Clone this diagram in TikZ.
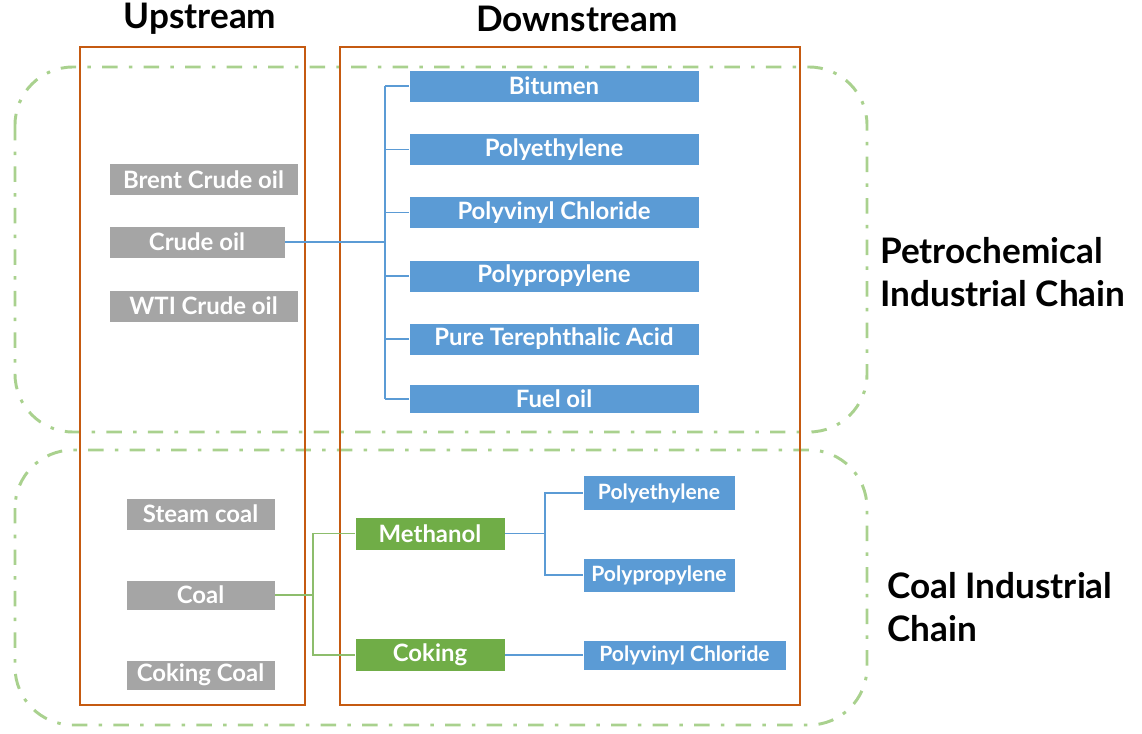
\documentclass[tikz,border=0pt]{standalone}
\usepackage{fontspec}
\setmainfont{Lato}
\usetikzlibrary{positioning}

\definecolor{frameorange}{HTML}{C55A11}
\definecolor{chaingreen}{HTML}{A9D18E}
\definecolor{rawgray}{HTML}{A5A5A5}
\definecolor{prodblue}{HTML}{5B9BD5}
\definecolor{midgreen}{HTML}{70AD47}

\begin{document}
\begin{tikzpicture}[x=0.025cm, y=-0.025cm,
  box/.style={rectangle, draw=white, line width=0.4pt, text=white, font=\fontsize{17}{19}\selectfont\bfseries, inner sep=0pt, minimum height=0.8cm},
  raw/.style={box, fill=rawgray},
  product/.style={box, fill=prodblue},
  process/.style={box, fill=midgreen},
  small/.style={font=\fontsize{15}{17}\selectfont\bfseries},
  heading/.style={font=\fontsize{25}{28}\selectfont\bfseries},
  chainlabel/.style={font=\fontsize{25}{30}\selectfont\bfseries, align=left, anchor=west, inner sep=0pt},
  chain/.style={draw=chaingreen, line width=2.1pt, dash pattern=on 11pt off 8pt on 2.5pt off 8pt, rounded corners=1.45cm},
  frame/.style={draw=frameorange, line width=1.4pt},
  blueline/.style={draw=prodblue, line width=1pt},
  greenline/.style={draw=midgreen!80, line width=0.8pt}]

\useasboundingbox (0,0) rectangle (1142,734);

% industrial chains
\draw[chain] (15,67) rectangle (867,432);
\draw[chain] (15,450) rectangle (867,725);

% upstream / downstream frames
\draw[frame] (80,47) rectangle (305,705);
\draw[frame] (340,47) rectangle (800,705);

\node[heading] (up) at (200,19) {Upstream};
\node[heading] (down) at (577,19) {Downstream};

\node[chainlabel] (petrolabel) at (880,272) {Petrochemical\\Industrial Chain};
\node[chainlabel] (coallabel) at (887,607) {Coal Industrial\\Chain};

% crude oil
\node[raw, minimum width=4.725cm] (brent) at (203.5,179.5) {Brent Crude oil};
\node[raw, minimum width=4.4cm] (crude) at (197,242) {Crude oil};
\node[raw, minimum width=4.725cm] (wti) at (203.5,306) {WTI Crude oil};

\node[product, minimum width=7.25cm] (bitumen) at (554,86) {Bitumen};
\node[product, minimum width=7.25cm] (pe) at (554,149.5) {Polyethylene};
\node[product, minimum width=7.25cm] (pvc) at (554,212.5) {Polyvinyl Chloride};
\node[product, minimum width=7.25cm] (pp) at (554,276) {Polypropylene};
\node[product, minimum width=7.25cm] (pta) at (554,339) {Pure Terephthalic Acid};
\node[product, minimum width=7.25cm, minimum height=0.72cm] (fuel) at (554,399) {Fuel oil};

\coordinate (ptrunk) at (385,242);
\draw[blueline] (crude.east) -- (ptrunk);
\draw[blueline] (ptrunk |- bitumen.west) -- (ptrunk |- fuel.west);
\foreach \n in {bitumen, pe, pvc, pp, pta, fuel}
  \draw[blueline] (ptrunk |- \n.west) -- (\n.west);

% coal
\node[raw, minimum width=3.725cm] (steam) at (200.5,514) {Steam coal};
\node[raw, minimum width=3.725cm, minimum height=0.76cm] (coal) at (200.5,595) {Coal};
\node[raw, minimum width=3.725cm, minimum height=0.76cm] (cokingcoal) at (200.5,675) {Coking Coal};

\node[process, minimum width=3.75cm, minimum height=0.83cm] (methanol) at (430,533.5) {Methanol};
\node[process, minimum width=3.75cm, minimum height=0.83cm] (coking) at (430,655) {Coking};

\node[product, small, minimum width=3.8cm, minimum height=0.88cm] (cpe) at (659,493) {Polyethylene};
\node[product, small, minimum width=3.8cm, minimum height=0.85cm] (cpp) at (659,575) {Polypropylene};
\node[product, small, minimum width=5.075cm, minimum height=0.75cm] (cpvc) at (684.5,655) {Polyvinyl Chloride};

\coordinate (ctrunk) at (313,595);
\draw[greenline] (coal.east) -- (ctrunk);
\draw[greenline] (methanol.west) -- (ctrunk |- methanol.west) -- (ctrunk |- coking.west) -- (coking.west);

\coordinate (mtrunk) at (545,533.5);
\draw[blueline] (methanol.east) -- (mtrunk);
\draw[blueline] (cpe.west) -- (mtrunk |- cpe.west) -- (mtrunk |- cpp.west) -- (cpp.west);
\draw[blueline] (coking.east) -- (cpvc.west);

\end{tikzpicture}
\end{document}
